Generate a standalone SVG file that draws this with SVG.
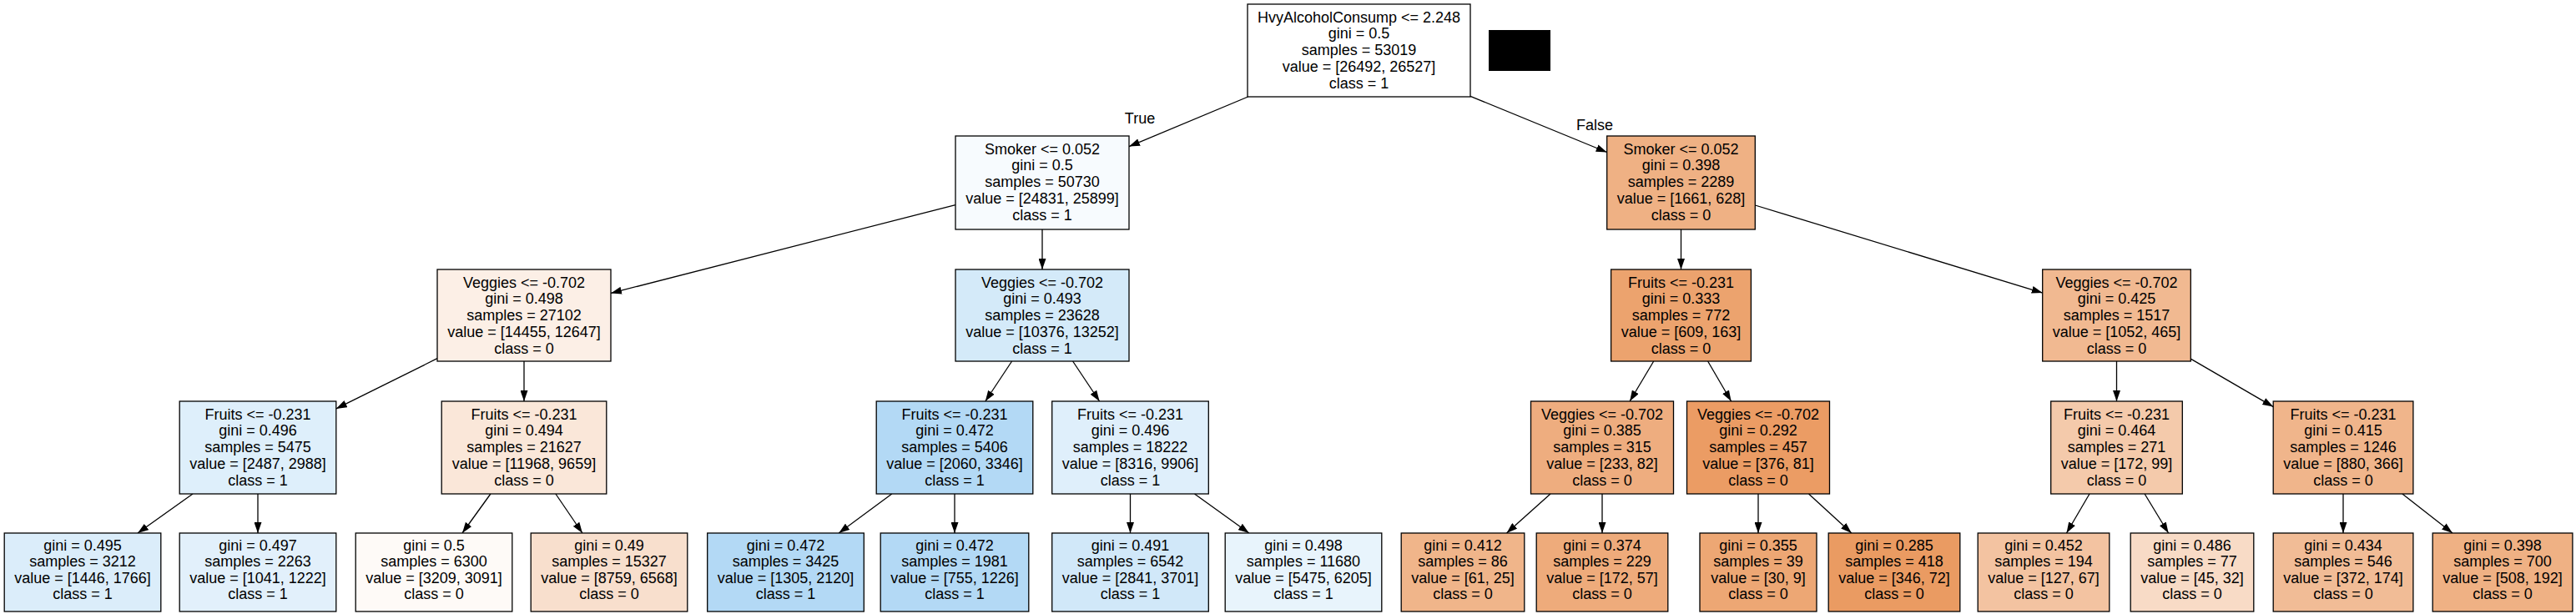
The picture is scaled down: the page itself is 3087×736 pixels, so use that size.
<svg xmlns="http://www.w3.org/2000/svg" width="3087" height="736" viewBox="0 0 3087 736">
<style>
.box{stroke:#000;stroke-width:1.3}
.t{font-family:"Liberation Sans",Arial,Helvetica,sans-serif;font-size:18px;text-anchor:middle;fill:#000}
.e{stroke:#000;stroke-width:1.3;fill:none;marker-end:url(#arr)}
</style>
<defs>
<marker id="arr" viewBox="0 0 13 9" refX="13" refY="4.5" markerWidth="13" markerHeight="9" orient="auto" markerUnits="userSpaceOnUse"><path d="M0,0 L13,4.5 L0,9 z" fill="#000"/></marker>
</defs>
<rect width="3087" height="736" fill="#fff"/>
<g id="connectors">
<path class="e" d="M1495.6,116 L1353,175.6"/>
<path class="e" d="M1762,115.3 L1925.7,182.5"/>
<path class="e" d="M1145,245.6 L732,351.4"/>
<path class="e" d="M1249,275 L1249,323"/>
<path class="e" d="M2014.5,275 L2014.5,323"/>
<path class="e" d="M2103.3,246 L2447.7,351.1"/>
<path class="e" d="M524,429.7 L402.8,489.9"/>
<path class="e" d="M628,433 L628,481"/>
<path class="e" d="M1212.6,433 L1180.8,481"/>
<path class="e" d="M1285.6,433 L1317.6,481"/>
<path class="e" d="M1981.7,433 L1953.1,481"/>
<path class="e" d="M2046.6,433 L2074.6,481"/>
<path class="e" d="M2536.5,433 L2536.5,481"/>
<path class="e" d="M2625.3,430.1 L2724.2,487.6"/>
<path class="e" d="M231,592 L165,639"/>
<path class="e" d="M309,592 L309,639"/>
<path class="e" d="M587.9,592 L554,639"/>
<path class="e" d="M665.9,592 L697.9,639"/>
<path class="e" d="M1068.8,592 L1005.2,639"/>
<path class="e" d="M1144,592 L1144,639"/>
<path class="e" d="M1354.5,592 L1354.5,639"/>
<path class="e" d="M1431.5,592 L1496.8,639"/>
<path class="e" d="M1858,592 L1805.5,639"/>
<path class="e" d="M1920,592 L1920,639"/>
<path class="e" d="M2107,592 L2107,639"/>
<path class="e" d="M2167.5,592 L2218.8,639"/>
<path class="e" d="M2504,592 L2476.5,639"/>
<path class="e" d="M2570.1,592 L2598.6,639"/>
<path class="e" d="M2808,592 L2808,639"/>
<path class="e" d="M2878.9,592 L2939,639"/>
<text class="t" x="1366" y="148">True</text>
<text class="t" x="1911" y="156">False</text>
</g>
<rect id="mask" x="1784" y="36" width="74" height="49" fill="#000"/>
<g id="node-root"><rect class="box" x="1495" y="5" width="267" height="111" fill="#ffffff"/>
<text class="t"><tspan x="1628.5" y="26.5">HvyAlcoholConsump &lt;= 2.248</tspan><tspan x="1628.5" y="46.3">gini = 0.5</tspan><tspan x="1628.5" y="66.1">samples = 53019</tspan><tspan x="1628.5" y="85.9">value = [26492, 26527]</tspan><tspan x="1628.5" y="105.7">class = 1</tspan></text></g>
<g id="node-A"><rect class="box" x="1145" y="163" width="208" height="112" fill="#f7fbfe"/>
<text class="t"><tspan x="1249" y="184.5">Smoker &lt;= 0.052</tspan><tspan x="1249" y="204.3">gini = 0.5</tspan><tspan x="1249" y="224.1">samples = 50730</tspan><tspan x="1249" y="243.9">value = [24831, 25899]</tspan><tspan x="1249" y="263.7">class = 1</tspan></text></g>
<g id="node-B"><rect class="box" x="1925.7" y="163" width="177.6" height="112" fill="#efb184"/>
<text class="t"><tspan x="2014.5" y="184.5">Smoker &lt;= 0.052</tspan><tspan x="2014.5" y="204.3">gini = 0.398</tspan><tspan x="2014.5" y="224.1">samples = 2289</tspan><tspan x="2014.5" y="243.9">value = [1661, 628]</tspan><tspan x="2014.5" y="263.7">class = 0</tspan></text></g>
<g id="node-C"><rect class="box" x="524" y="323" width="208" height="110" fill="#fcefe6"/>
<text class="t"><tspan x="628" y="344.5">Veggies &lt;= -0.702</tspan><tspan x="628" y="364.3">gini = 0.498</tspan><tspan x="628" y="384.1">samples = 27102</tspan><tspan x="628" y="403.9">value = [14455, 12647]</tspan><tspan x="628" y="423.7">class = 0</tspan></text></g>
<g id="node-D"><rect class="box" x="1145" y="323" width="208" height="110" fill="#d4eaf9"/>
<text class="t"><tspan x="1249" y="344.5">Veggies &lt;= -0.702</tspan><tspan x="1249" y="364.3">gini = 0.493</tspan><tspan x="1249" y="384.1">samples = 23628</tspan><tspan x="1249" y="403.9">value = [10376, 13252]</tspan><tspan x="1249" y="423.7">class = 1</tspan></text></g>
<g id="node-E"><rect class="box" x="1930.6" y="323" width="167.8" height="110" fill="#eca36e"/>
<text class="t"><tspan x="2014.5" y="344.5">Fruits &lt;= -0.231</tspan><tspan x="2014.5" y="364.3">gini = 0.333</tspan><tspan x="2014.5" y="384.1">samples = 772</tspan><tspan x="2014.5" y="403.9">value = [609, 163]</tspan><tspan x="2014.5" y="423.7">class = 0</tspan></text></g>
<g id="node-F"><rect class="box" x="2447.7" y="323" width="177.6" height="110" fill="#f1b991"/>
<text class="t"><tspan x="2536.5" y="344.5">Veggies &lt;= -0.702</tspan><tspan x="2536.5" y="364.3">gini = 0.425</tspan><tspan x="2536.5" y="384.1">samples = 1517</tspan><tspan x="2536.5" y="403.9">value = [1052, 465]</tspan><tspan x="2536.5" y="423.7">class = 0</tspan></text></g>
<g id="node-G"><rect class="box" x="215.2" y="481" width="187.6" height="111" fill="#deeffb"/>
<text class="t"><tspan x="309" y="502.5">Fruits &lt;= -0.231</tspan><tspan x="309" y="522.3">gini = 0.496</tspan><tspan x="309" y="542.1">samples = 5475</tspan><tspan x="309" y="561.9">value = [2487, 2988]</tspan><tspan x="309" y="581.7">class = 1</tspan></text></g>
<g id="node-H"><rect class="box" x="529.2" y="481" width="197.6" height="111" fill="#fae7d9"/>
<text class="t"><tspan x="628" y="502.5">Fruits &lt;= -0.231</tspan><tspan x="628" y="522.3">gini = 0.494</tspan><tspan x="628" y="542.1">samples = 21627</tspan><tspan x="628" y="561.9">value = [11968, 9659]</tspan><tspan x="628" y="581.7">class = 0</tspan></text></g>
<g id="node-I"><rect class="box" x="1050.2" y="481" width="187.6" height="111" fill="#b3d9f5"/>
<text class="t"><tspan x="1144" y="502.5">Fruits &lt;= -0.231</tspan><tspan x="1144" y="522.3">gini = 0.472</tspan><tspan x="1144" y="542.1">samples = 5406</tspan><tspan x="1144" y="561.9">value = [2060, 3346]</tspan><tspan x="1144" y="581.7">class = 1</tspan></text></g>
<g id="node-J"><rect class="box" x="1260.7" y="481" width="187.6" height="111" fill="#dfeffb"/>
<text class="t"><tspan x="1354.5" y="502.5">Fruits &lt;= -0.231</tspan><tspan x="1354.5" y="522.3">gini = 0.496</tspan><tspan x="1354.5" y="542.1">samples = 18222</tspan><tspan x="1354.5" y="561.9">value = [8316, 9906]</tspan><tspan x="1354.5" y="581.7">class = 1</tspan></text></g>
<g id="node-K"><rect class="box" x="1834.5" y="481" width="171" height="111" fill="#eead7f"/>
<text class="t"><tspan x="1920" y="502.5">Veggies &lt;= -0.702</tspan><tspan x="1920" y="522.3">gini = 0.385</tspan><tspan x="1920" y="542.1">samples = 315</tspan><tspan x="1920" y="561.9">value = [233, 82]</tspan><tspan x="1920" y="581.7">class = 0</tspan></text></g>
<g id="node-L"><rect class="box" x="2021.5" y="481" width="171" height="111" fill="#eb9c64"/>
<text class="t"><tspan x="2107" y="502.5">Veggies &lt;= -0.702</tspan><tspan x="2107" y="522.3">gini = 0.292</tspan><tspan x="2107" y="542.1">samples = 457</tspan><tspan x="2107" y="561.9">value = [376, 81]</tspan><tspan x="2107" y="581.7">class = 0</tspan></text></g>
<g id="node-M"><rect class="box" x="2457.7" y="481" width="157.6" height="111" fill="#f4caab"/>
<text class="t"><tspan x="2536.5" y="502.5">Fruits &lt;= -0.231</tspan><tspan x="2536.5" y="522.3">gini = 0.464</tspan><tspan x="2536.5" y="542.1">samples = 271</tspan><tspan x="2536.5" y="561.9">value = [172, 99]</tspan><tspan x="2536.5" y="581.7">class = 0</tspan></text></g>
<g id="node-N"><rect class="box" x="2724.2" y="481" width="167.7" height="111" fill="#f0b58b"/>
<text class="t"><tspan x="2808" y="502.5">Fruits &lt;= -0.231</tspan><tspan x="2808" y="522.3">gini = 0.415</tspan><tspan x="2808" y="542.1">samples = 1246</tspan><tspan x="2808" y="561.9">value = [880, 366]</tspan><tspan x="2808" y="581.7">class = 0</tspan></text></g>
<g id="leaf-1"><rect class="box" x="5.2" y="639" width="187.6" height="94" fill="#dbedfa"/>
<text class="t"><tspan x="99" y="659.5">gini = 0.495</tspan><tspan x="99" y="679.1">samples = 3212</tspan><tspan x="99" y="698.7">value = [1446, 1766]</tspan><tspan x="99" y="718.3">class = 1</tspan></text></g>
<g id="leaf-2"><rect class="box" x="215.2" y="639" width="187.6" height="94" fill="#e2f0fb"/>
<text class="t"><tspan x="309" y="659.5">gini = 0.497</tspan><tspan x="309" y="679.1">samples = 2263</tspan><tspan x="309" y="698.7">value = [1041, 1222]</tspan><tspan x="309" y="718.3">class = 1</tspan></text></g>
<g id="leaf-3"><rect class="box" x="426.2" y="639" width="187.6" height="94" fill="#fefaf7"/>
<text class="t"><tspan x="520" y="659.5">gini = 0.5</tspan><tspan x="520" y="679.1">samples = 6300</tspan><tspan x="520" y="698.7">value = [3209, 3091]</tspan><tspan x="520" y="718.3">class = 0</tspan></text></g>
<g id="leaf-4"><rect class="box" x="636.2" y="639" width="187.6" height="94" fill="#f8dfcd"/>
<text class="t"><tspan x="730" y="659.5">gini = 0.49</tspan><tspan x="730" y="679.1">samples = 15327</tspan><tspan x="730" y="698.7">value = [8759, 6568]</tspan><tspan x="730" y="718.3">class = 0</tspan></text></g>
<g id="leaf-5"><rect class="box" x="847.7" y="639" width="187.6" height="94" fill="#b3d9f5"/>
<text class="t"><tspan x="941.5" y="659.5">gini = 0.472</tspan><tspan x="941.5" y="679.1">samples = 3425</tspan><tspan x="941.5" y="698.7">value = [1305, 2120]</tspan><tspan x="941.5" y="718.3">class = 1</tspan></text></g>
<g id="leaf-6"><rect class="box" x="1055.2" y="639" width="177.6" height="94" fill="#b3d9f5"/>
<text class="t"><tspan x="1144" y="659.5">gini = 0.472</tspan><tspan x="1144" y="679.1">samples = 1981</tspan><tspan x="1144" y="698.7">value = [755, 1226]</tspan><tspan x="1144" y="718.3">class = 1</tspan></text></g>
<g id="leaf-7"><rect class="box" x="1260.7" y="639" width="187.6" height="94" fill="#d1e8f9"/>
<text class="t"><tspan x="1354.5" y="659.5">gini = 0.491</tspan><tspan x="1354.5" y="679.1">samples = 6542</tspan><tspan x="1354.5" y="698.7">value = [2841, 3701]</tspan><tspan x="1354.5" y="718.3">class = 1</tspan></text></g>
<g id="leaf-8"><rect class="box" x="1468.2" y="639" width="187.6" height="94" fill="#e8f4fc"/>
<text class="t"><tspan x="1562" y="659.5">gini = 0.498</tspan><tspan x="1562" y="679.1">samples = 11680</tspan><tspan x="1562" y="698.7">value = [5475, 6205]</tspan><tspan x="1562" y="718.3">class = 1</tspan></text></g>
<g id="leaf-9"><rect class="box" x="1679.2" y="639" width="147.6" height="94" fill="#f0b58a"/>
<text class="t"><tspan x="1753" y="659.5">gini = 0.412</tspan><tspan x="1753" y="679.1">samples = 86</tspan><tspan x="1753" y="698.7">value = [61, 25]</tspan><tspan x="1753" y="718.3">class = 0</tspan></text></g>
<g id="leaf-10"><rect class="box" x="1841.2" y="639" width="157.6" height="94" fill="#eeab7b"/>
<text class="t"><tspan x="1920" y="659.5">gini = 0.374</tspan><tspan x="1920" y="679.1">samples = 229</tspan><tspan x="1920" y="698.7">value = [172, 57]</tspan><tspan x="1920" y="718.3">class = 0</tspan></text></g>
<g id="leaf-11"><rect class="box" x="2037" y="639" width="140" height="94" fill="#eda774"/>
<text class="t"><tspan x="2107" y="659.5">gini = 0.355</tspan><tspan x="2107" y="679.1">samples = 39</tspan><tspan x="2107" y="698.7">value = [30, 9]</tspan><tspan x="2107" y="718.3">class = 0</tspan></text></g>
<g id="leaf-12"><rect class="box" x="2191.2" y="639" width="157.6" height="94" fill="#ea9b62"/>
<text class="t"><tspan x="2270" y="659.5">gini = 0.285</tspan><tspan x="2270" y="679.1">samples = 418</tspan><tspan x="2270" y="698.7">value = [346, 72]</tspan><tspan x="2270" y="718.3">class = 0</tspan></text></g>
<g id="leaf-13"><rect class="box" x="2370.2" y="639" width="157.6" height="94" fill="#f3c3a1"/>
<text class="t"><tspan x="2449" y="659.5">gini = 0.452</tspan><tspan x="2449" y="679.1">samples = 194</tspan><tspan x="2449" y="698.7">value = [127, 67]</tspan><tspan x="2449" y="718.3">class = 0</tspan></text></g>
<g id="leaf-14"><rect class="box" x="2553.2" y="639" width="147.6" height="94" fill="#f8dbc6"/>
<text class="t"><tspan x="2627" y="659.5">gini = 0.486</tspan><tspan x="2627" y="679.1">samples = 77</tspan><tspan x="2627" y="698.7">value = [45, 32]</tspan><tspan x="2627" y="718.3">class = 0</tspan></text></g>
<g id="leaf-15"><rect class="box" x="2724.2" y="639" width="167.7" height="94" fill="#f1bc96"/>
<text class="t"><tspan x="2808" y="659.5">gini = 0.434</tspan><tspan x="2808" y="679.1">samples = 546</tspan><tspan x="2808" y="698.7">value = [372, 174]</tspan><tspan x="2808" y="718.3">class = 0</tspan></text></g>
<g id="leaf-16"><rect class="box" x="2915.2" y="639" width="167.7" height="94" fill="#efb184"/>
<text class="t"><tspan x="2999" y="659.5">gini = 0.398</tspan><tspan x="2999" y="679.1">samples = 700</tspan><tspan x="2999" y="698.7">value = [508, 192]</tspan><tspan x="2999" y="718.3">class = 0</tspan></text></g>
</svg>
